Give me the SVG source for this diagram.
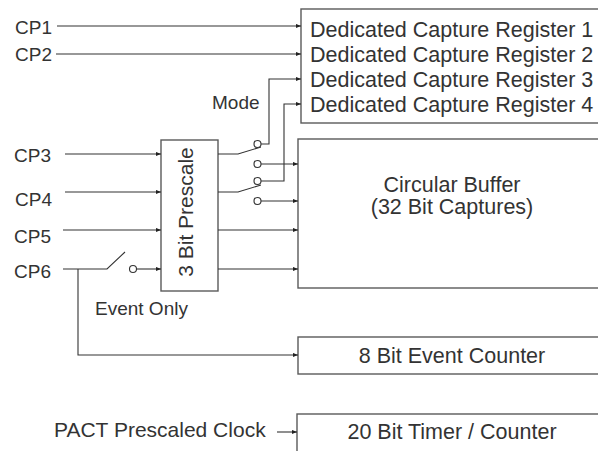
<svg xmlns="http://www.w3.org/2000/svg" width="598" height="451" viewBox="0 0 598 451">
<defs>
<marker id="arr" markerUnits="userSpaceOnUse" markerWidth="6" markerHeight="5" refX="5.5" refY="2.25" orient="auto">
<path d="M0,0 L5.5,2.25 L0,4.5 z" fill="#222"/>
</marker>
<style>
text{font-family:"Liberation Sans",Arial,sans-serif;fill:#333}
.box{fill:#fff;stroke:#5a5a5a;stroke-width:1.4}
.ln{fill:none;stroke:#333;stroke-width:1.1}
.a{marker-end:url(#arr)}
.c{fill:#fff;stroke:#333;stroke-width:1.1}
.big{font-size:21.5px}
.sm{font-size:19px}
.mid{text-anchor:middle}
</style>
</defs>
<rect width="598" height="451" fill="#fff"/>

<g id="registers">
<rect class="box" x="301" y="9" width="310" height="114"/>
<text class="big" x="310" y="37">Dedicated Capture Register 1</text>
<text class="big" x="310" y="62">Dedicated Capture Register 2</text>
<text class="big" x="310" y="87">Dedicated Capture Register 3</text>
<text class="big" x="310" y="112">Dedicated Capture Register 4</text>
</g>

<g id="buffer">
<rect class="box" x="298" y="139" width="310" height="149"/>
<text class="big mid" x="452" y="192">Circular Buffer</text>
<text class="big mid" x="452" y="214">(32 Bit Captures)</text>
</g>

<g id="prescale">
<rect class="box" x="161" y="140" width="57" height="151"/>
<text class="mid" font-size="21" transform="translate(193,212) rotate(-90)">3 Bit Prescale</text>
</g>

<g id="eventcounter">
<rect class="box" x="298" y="337" width="310" height="37"/>
<text class="big mid" x="452" y="363">8 Bit Event Counter</text>
</g>

<g id="timer">
<rect class="box" x="297" y="414" width="310" height="40"/>
<text class="big mid" x="452" y="439">20 Bit Timer / Counter</text>
</g>

<g id="labels">
<text class="sm" x="15" y="34">CP1</text>
<text class="sm" x="15" y="61">CP2</text>
<text class="sm" x="14" y="162">CP3</text>
<text class="sm" x="15" y="206">CP4</text>
<text class="sm" x="14" y="243">CP5</text>
<text class="sm" x="14" y="278">CP6</text>
<text class="sm" x="212" y="109">Mode</text>
<text class="sm" x="95" y="315">Event Only</text>
<text font-size="21" x="54" y="437">PACT Prescaled Clock</text>
</g>

<g id="connectors">
<path class="ln a" d="M57,26 H301"/>
<path class="ln a" d="M56,54 H301"/>
<path class="ln a" d="M65,154 H161"/>
<path class="ln a" d="M65,192 H161"/>
<path class="ln a" d="M63,230 H161"/>
<path class="ln" d="M63,269 H107 L125,252"/>
<path class="ln a" d="M137,269 H161"/>
<path class="ln a" d="M78,269 V355 H298"/>
<path class="ln" d="M218,154 H238 L261,147"/>
<path class="ln" d="M218,192 H238 L261,185"/>
<path class="ln a" d="M261,144 H269 V79 H301"/>
<path class="ln a" d="M261,181 H284 V104 H301"/>
<path class="ln a" d="M261,164 H298"/>
<path class="ln a" d="M261,201 H298"/>
<path class="ln a" d="M218,230 H298"/>
<path class="ln a" d="M218,269 H298"/>
<path class="ln a" d="M277,432 H297"/>
<circle class="c" cx="257.5" cy="144" r="3.5"/>
<circle class="c" cx="257.5" cy="164" r="3.5"/>
<circle class="c" cx="257.5" cy="181" r="3.5"/>
<circle class="c" cx="257.5" cy="201" r="3.5"/>
<circle class="c" cx="133" cy="269" r="3.5"/>
</g>
</svg>
